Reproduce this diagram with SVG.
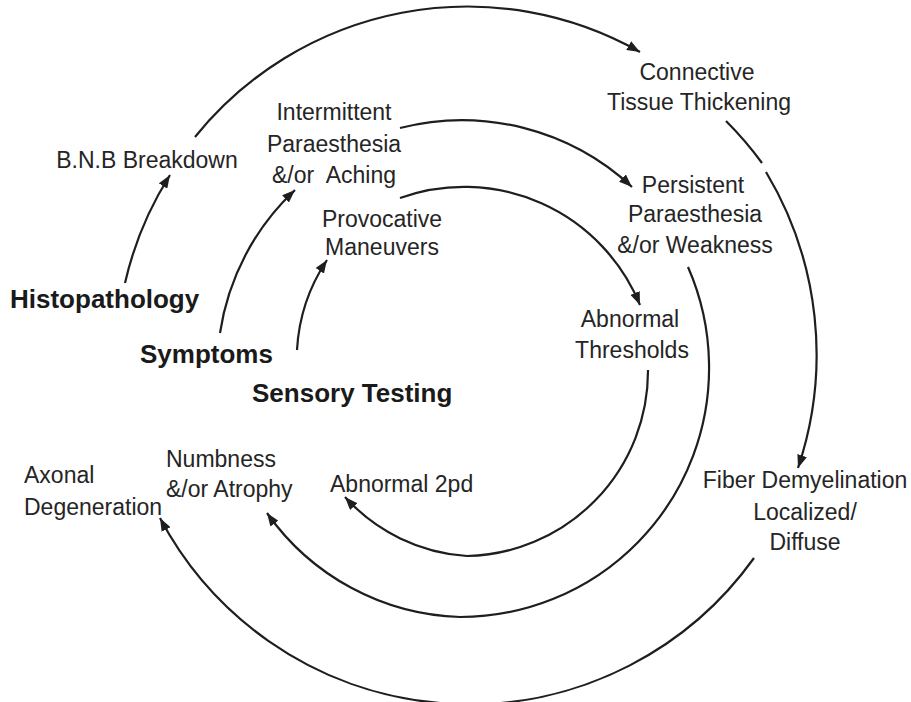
<svg xmlns="http://www.w3.org/2000/svg" width="911" height="702" viewBox="0 0 911 702">
<defs>
<marker id="arr" markerUnits="userSpaceOnUse" markerWidth="14" markerHeight="10" refX="13" refY="5" orient="auto">
<path d="M0,0 L13,5 L0,10 z" fill="#1e1e1e"/>
</marker>
<style>
.lbl{font-family:"Liberation Sans",Arial,sans-serif;font-size:23px;fill:#252525;}
.ttl{font-family:"Liberation Sans",Arial,sans-serif;font-size:26px;font-weight:bold;fill:#1a1a1a;}
.c{text-anchor:middle;}
.arc{fill:none;stroke:#1e1e1e;stroke-width:2.2;}
.arr{marker-end:url(#arr);}
</style>
</defs>
<rect width="911" height="702" fill="#fff"/>
<g id="connectors">
<path class="arc arr" d="M125,283 A345,345 0 0 1 170,175"/>
<path class="arc arr" d="M195,137 A350,350 0 0 1 640,52"/>
<path class="arc" d="M726,121 A355,355 0 0 1 762,163"/>
<path class="arc arr" d="M766,172 A355,355 0 0 1 798,468"/>
<path class="arc arr" d="M754,558 A350,350 0 0 1 160,518"/>
<path class="arc arr" d="M220,333 A245,245 0 0 1 295,190"/>
<path class="arc arr" d="M400,128 A250,250 0 0 1 632,187"/>
<path class="arc arr" d="M688,267 A250,250 0 0 1 709,362 A249,249 0 0 1 460,617 A245,245 0 0 1 267,513"/>
<path class="arc arr" d="M297,350 A180,180 0 0 1 327,260"/>
<path class="arc arr" d="M400,198 A190,190 0 0 1 640,305"/>
<path class="arc arr" d="M648,370 A185,185 0 0 1 467,556 A180,180 0 0 1 345,497"/>
</g>
<g id="histopathology"><text class="ttl" x="10" y="308">Histopathology</text></g>
<g id="symptoms"><text class="ttl" x="140" y="363">Symptoms</text></g>
<g id="sensory-testing"><text class="ttl" x="252" y="402">Sensory Testing</text></g>
<g id="bnb-breakdown"><text class="lbl c" x="147" y="168">B.N.B Breakdown</text></g>
<g id="intermittent"><text class="lbl c" x="334" y="120">Intermittent</text><text class="lbl c" x="334" y="152">Paraesthesia</text><text class="lbl c" x="334" y="183" xml:space="preserve">&amp;/or  Aching</text></g>
<g id="provocative"><text class="lbl c" x="382" y="227">Provocative</text><text class="lbl c" x="382" y="255">Maneuvers</text></g>
<g id="connective"><text class="lbl c" x="697" y="80">Connective</text><text class="lbl c" x="699" y="110">Tissue Thickening</text></g>
<g id="persistent"><text class="lbl c" x="693" y="193">Persistent</text><text class="lbl c" x="695" y="222">Paraesthesia</text><text class="lbl c" x="695" y="253">&amp;/or Weakness</text></g>
<g id="abnormal-thresholds"><text class="lbl c" x="630" y="327">Abnormal</text><text class="lbl c" x="632" y="358">Thresholds</text></g>
<g id="fiber-demyelination"><text class="lbl c" x="805" y="488">Fiber Demyelination</text><text class="lbl c" x="805" y="520">Localized/</text><text class="lbl c" x="805" y="550">Diffuse</text></g>
<g id="axonal"><text class="lbl" x="24" y="483">Axonal</text><text class="lbl" x="24" y="515">Degeneration</text></g>
<g id="numbness"><text class="lbl" x="166" y="467">Numbness</text><text class="lbl" x="166" y="497">&amp;/or Atrophy</text></g>
<g id="abnormal-2pd"><text class="lbl" x="330" y="492">Abnormal 2pd</text></g>
</svg>
